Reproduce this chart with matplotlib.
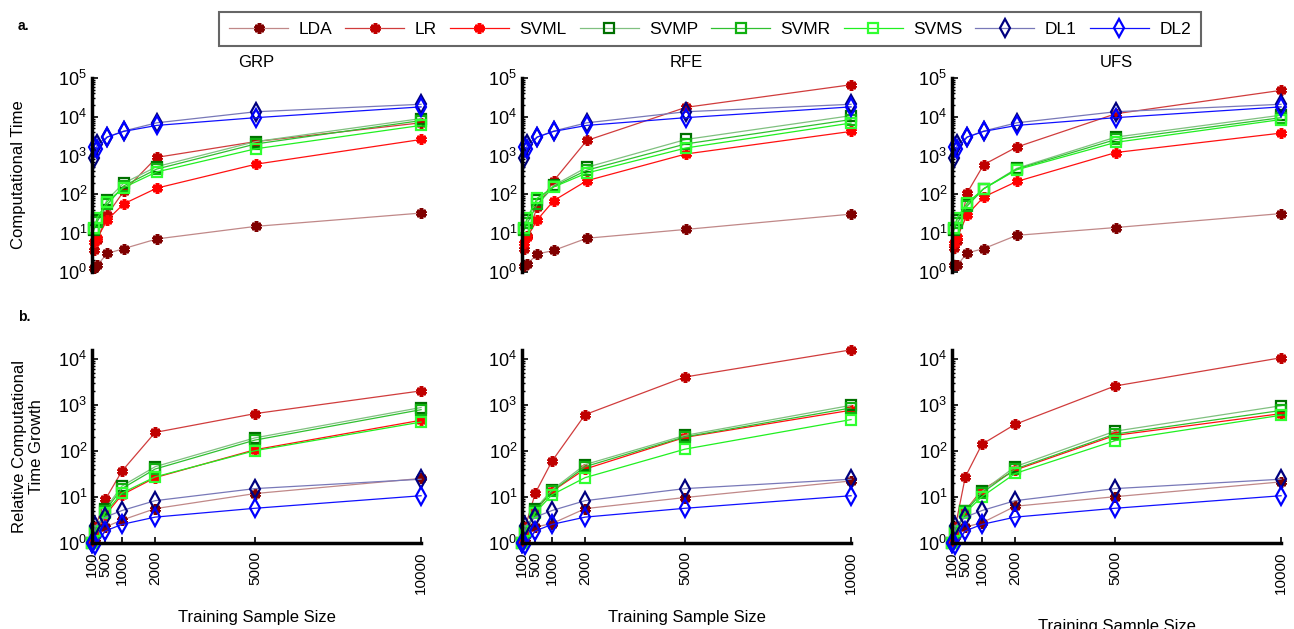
import matplotlib
matplotlib.use("Agg")
import matplotlib.pyplot as plt
import matplotlib.ticker as ticker

plt.rcParams['font.family'] = ['Liberation Sans', 'DejaVu Sans']

sizes = [100, 200, 500, 1000, 2000, 5000, 10000]
methods = ['LDA', 'LR', 'SVML', 'SVMP', 'SVMR', 'SVMS', 'DL1', 'DL2']
panels = ['GRP', 'RFE', 'UFS']
tick_sizes = [100, 500, 1000, 2000, 5000, 10000]

# computational time, rows follow `methods`
grp_time = [
    [1.3, 1.5, 3.0, 4.0, 7.1, 15, 33],
    [3.6, 6.5, 30, 120, 900, 2300, 7000],
    [6.0, 7.5, 22, 57, 145, 600, 2600],
    [12, 22, 73, 195, 520, 2300, 9000],
    [13, 20, 55, 165, 450, 2000, 8000],
    [14, 25, 65, 150, 380, 1500, 6000],
    [870, 2000, 3000, 4300, 7000, 13500, 21000],
    [1700, 1500, 3000, 4200, 6000, 9500, 18000],
]
rfe_time = [
    [1.4, 1.6, 2.9, 3.6, 7.4, 12.5, 31],
    [3.8, 8.3, 48, 225, 2450, 17500, 67000],
    [5.6, 8, 22, 69, 225, 1100, 4200],
    [13, 22, 70, 170, 500, 2600, 10700],
    [12, 18, 55, 160, 420, 2000, 8500],
    [14, 25, 80, 155, 355, 1570, 6900],
    [870, 2000, 3000, 4300, 7000, 13500, 21000],
    [1700, 1500, 3000, 4200, 6000, 9500, 18000],
]
ufs_time = [
    [1.5, 1.5, 3.1, 4.0, 8.8, 14, 32],
    [4.2, 6.2, 110, 585, 1660, 12000, 48000],
    [5.5, 8, 30, 86, 215, 1200, 3800],
    [12, 22, 55, 140, 470, 3000, 11000],
    [13, 18, 50, 140, 450, 2600, 9500],
    [14, 25, 60, 140, 430, 2200, 8500],
    [870, 2000, 3000, 4300, 7000, 13500, 21000],
    [1700, 1500, 3000, 4200, 6000, 9500, 18000],
]

# relative growth
grp_growth = [
    [1, 1.2, 2.2, 3.1, 5.5, 11.7, 25],
    [1, 2.2, 8.7, 36, 250, 640, 2000],
    [1, 1.5, 4, 11, 26, 105, 460],
    [1, 1.7, 5.5, 17, 45, 190, 870],
    [1, 1.6, 5, 15, 40, 170, 780],
    [1, 1.8, 4.5, 12, 27, 100, 420],
    [1, 2.3, 3.6, 5.0, 8.2, 15, 24],
    [1, 0.88, 1.8, 2.5, 3.6, 5.6, 10.5],
]
rfe_growth = [
    [1, 1.2, 2.2, 2.6, 5.5, 9.6, 22],
    [1, 2.2, 12, 59, 610, 4000, 15600],
    [1, 1.5, 5, 13, 40, 195, 760],
    [1, 1.7, 5.5, 14, 50, 215, 970],
    [1, 1.6, 5, 13, 45, 200, 850],
    [1, 1.8, 4.5, 11, 26, 108, 475],
    [1, 2.3, 3.6, 5.0, 8.2, 15, 24],
    [1, 0.88, 1.8, 2.5, 3.6, 5.6, 10.5],
]
ufs_growth = [
    [1, 1.3, 2.2, 2.7, 6.2, 10, 21],
    [1, 2.2, 27, 138, 375, 2550, 10500],
    [1, 1.5, 5, 14, 38, 215, 640],
    [1, 1.7, 5, 13, 45, 265, 950],
    [1, 1.6, 4.8, 12, 40, 230, 750],
    [1, 1.8, 4.5, 10, 32, 165, 590],
    [1, 2.3, 3.6, 5.0, 8.2, 15, 24],
    [1, 0.88, 1.8, 2.5, 3.6, 5.6, 10.5],
]

line_colors = ['#c08888', '#d03c3c', '#ff1010', '#80c080', '#30c030', '#20f020', '#7878b8', '#1010ff']
marker_colors = ['#800000', '#c00000', '#ff0000', '#007000', '#10b010', '#30ff30', '#000080', '#0000ff']
markers = [(6, 2, 0), (6, 2, 0), (6, 2, 0), 's', 's', 's', 'd', 'd']
msizes = [7.5, 7.5, 7.5, 7, 7, 7, 9, 9]
mews = [2.6, 2.6, 2.6, 1.6, 1.6, 1.6, 1.6, 1.6]

fig = plt.figure(figsize=(12.94, 6.29), dpi=100)

lefts = [0.0711, 0.4034, 0.7357]
w = 0.2543
top_axes = [fig.add_axes([l, 0.5676, w, 0.3084]) for l in lefts]
bot_axes = [fig.add_axes([l, 0.1372, w, 0.3064]) for l in lefts]

times = [grp_time, rfe_time, ufs_time]
growths = [grp_growth, rfe_growth, ufs_growth]


def draw(ax, data):
    for i in range(len(methods)):
        ax.plot(sizes, data[i], '-', color=line_colors[i], lw=0.9,
                marker=markers[i], ms=msizes[i], mec=marker_colors[i],
                mfc='none' if markers[i] in ('s', 'd') else marker_colors[i],
                mew=mews[i], label=methods[i], clip_on=False)
    ax.set_yscale('log')
    ax.yaxis.set_major_locator(ticker.LogLocator(base=10, numticks=10))
    ax.yaxis.set_minor_locator(ticker.LogLocator(base=10, subs=range(2, 10), numticks=20))
    ax.yaxis.set_minor_formatter(ticker.NullFormatter())
    ax.tick_params(axis='y', which='major', direction='in', length=4, width=1.2, labelsize=13)
    ax.tick_params(axis='y', which='minor', direction='in', length=2, width=1)
    for s in ['top', 'right']:
        ax.spines[s].set_visible(False)
    ax.spines['left'].set_linewidth(2.5)


for k in range(3):
    ax = top_axes[k]
    draw(ax, times[k])
    ax.set_xlim(40, 10000)
    ax.set_ylim(1, 1e5)
    ax.spines['bottom'].set_visible(False)
    ax.set_xticks([])
    ax.set_title(panels[k], fontsize=12, pad=8)

    ax = bot_axes[k]
    draw(ax, growths[k])
    ax.set_xlim(100, 10000)
    ax.set_ylim(1, 1.55e4)
    ax.spines['bottom'].set_linewidth(2.5)
    ax.set_xticks(tick_sizes)
    ax.set_xticklabels([str(t) for t in tick_sizes], rotation=90)
    ax.tick_params(axis='x', direction='in', length=4, width=1.2, labelsize=11, pad=6)
    ax.set_xlabel('Training Sample Size', fontsize=12, labelpad=12 if k < 2 else 18)

top_axes[0].set_ylabel('Computational Time', fontsize=12, labelpad=23)
bot_axes[0].set_ylabel('Relative Computational\nTime Growth', fontsize=12, labelpad=10)

fig.text(0.014, 0.952, 'a.', fontsize=10, fontweight='bold')
fig.text(0.014, 0.49, 'b.', fontsize=10, fontweight='bold')

handles, labels = top_axes[0].get_legend_handles_labels()
leg = fig.legend(handles, labels, loc='upper center', bbox_to_anchor=(0.5487, 0.981),
                 borderaxespad=0, ncol=8, fontsize=12.5, frameon=True, fancybox=False,
                 edgecolor='#404040', handlelength=3.4, columnspacing=0.75,
                 handletextpad=0.6, borderpad=0.55)
leg.get_frame().set_linewidth(1.5)

fig.savefig('out.png', dpi=100)
